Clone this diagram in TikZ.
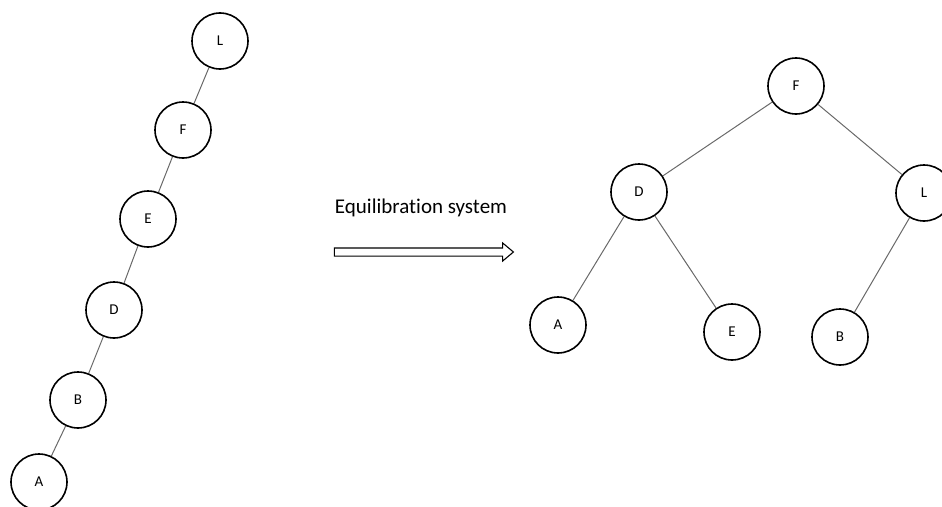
\documentclass[tikz,border=0pt]{standalone}
\usepackage{fontspec}
\setmainfont{Carlito}[Ligatures=NoCommon]
\usetikzlibrary{shapes.arrows}
\definecolor{edgegray}{RGB}{105,105,105}

\begin{document}
\begin{tikzpicture}[x=1pt,y=-1pt,
    vertex/.style={draw,circle,line width=1.6pt,minimum size=56pt,inner sep=0pt,font=\fontsize{15}{15}\selectfont},
    link/.style={edgegray,line width=1pt}]
    \useasboundingbox (0,0) rectangle (942,506);

    % Unbalanced chain
    \node[vertex] (cl) at (220,41) {L};
    \node[vertex] (cf) at (183,130) {F};
    \node[vertex] (ce) at (148,219) {E};
    \node[vertex] (cd) at (114,310) {D};
    \node[vertex] (cb) at (78,400) {B};
    \node[vertex] (ca) at (39,482) {A};
    \draw[link] (cl) -- (cf);
    \draw[link] (cf) -- (ce);
    \draw[link] (ce) -- (cd);
    \draw[link] (cd) -- (cb);
    \draw[link] (cb) -- (ca);

    % Arrow
    \node[single arrow,draw,line width=1.1pt,minimum height=179pt,minimum width=18pt,
          inner sep=3.5pt,single arrow head extend=5pt,single arrow tip angle=80] (arrow) at (421.5,252) {};
    \node[font=\fontsize{21}{21}\selectfont,anchor=base] (label) at (421,213) {Equilibration system};

    % Balanced tree
    \node[vertex] (tf) at (796,86) {F};
    \node[vertex] (td) at (639,192) {D};
    \node[vertex] (tl) at (924,193) {L};
    \node[vertex] (ta) at (558,325) {A};
    \node[vertex] (te) at (732,332) {E};
    \node[vertex] (tb) at (840,337) {B};
    \draw[link] (tf) -- (td);
    \draw[link] (tf) -- (tl);
    \draw[link] (td) -- (ta);
    \draw[link] (td) -- (te);
    \draw[link] (tl) -- (tb);
\end{tikzpicture}
\end{document}
